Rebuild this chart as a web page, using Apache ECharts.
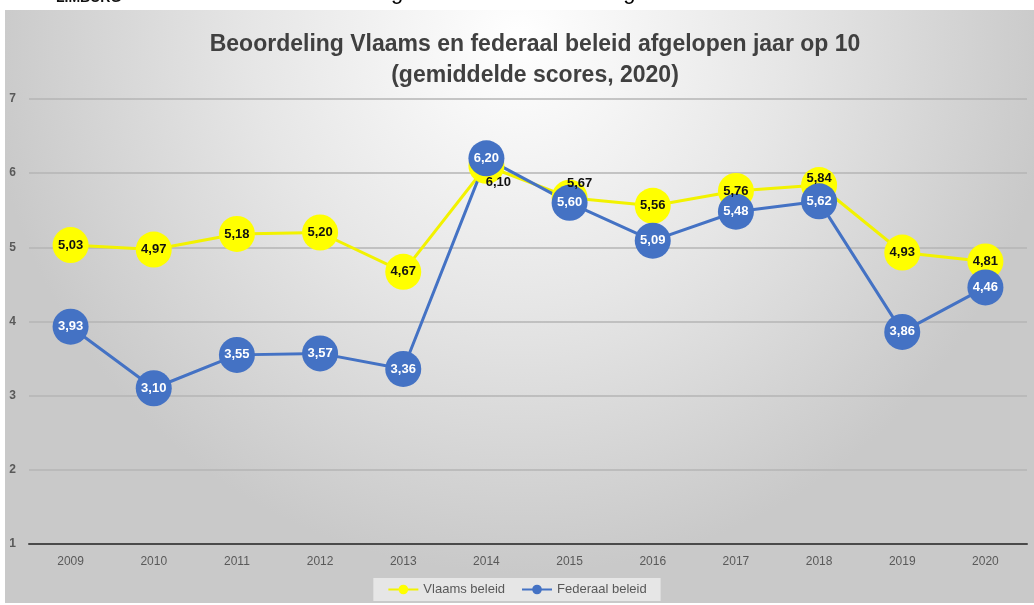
<!DOCTYPE html>
<html>
<head>
<meta charset="utf-8">
<script src="https://cdn.jsdelivr.net/npm/echarts@6/dist/echarts.min.js"></script>
<style>
  html, body { margin: 0; padding: 0; background: #fff; }
  #chart { width: 1034px; height: 605px; }
</style>
</head>
<body>
<div id="chart"></div>
<script>
  // jaren en gemiddelde scores
  var years = ['2009', '2010', '2011', '2012', '2013', '2014', '2015', '2016', '2017', '2018', '2019', '2020'];
  var vlaams = [5.03, 4.97, 5.18, 5.20, 4.67, 6.10, 5.67, 5.56, 5.76, 5.84, 4.93, 4.81];
  var federaal = [3.93, 3.10, 3.55, 3.57, 3.36, 6.20, 5.60, 5.09, 5.48, 5.62, 3.86, 4.46];
  var yTicks = [1, 2, 3, 4, 5, 6, 7];

  var fontFam = '"Liberation Sans", Arial, sans-serif';

  function fmt(v) {
    return v.toFixed(2).replace('.', ',');
  }

  // labels die naast het bolletje staan
  var vlaamsOffsets = { 5: [12, 17], 6: [10, -14], 9: [0, -7] };

  var chart = echarts.init(document.getElementById('chart'));
  var option = {
    backgroundColor: '#ffffff',
    animation: false,
    graphic: [
      {
        type: 'rect',
        z: -10,
        shape: { x: 5, y: 10, width: 1029, height: 593 },
        style: {
          fill: new echarts.graphic.RadialGradient(0.5, 0.05, 0.9, [
            { offset: 0, color: '#ffffff' },
            { offset: 0.5, color: '#e6e6e6' },
            { offset: 1, color: '#c9c9c9' }
          ])
        }
      },
      {
        type: 'text',
        left: 56,
        top: -9,
        style: { text: 'LIMBURG', font: 'bold 14px ' + fontFam, fill: '#111' }
      },
      {
        type: 'text',
        left: 320,
        top: -18,
        style: {
          text: '{b|Polsslag }{r|Ondernemend}{b| Limburg}',
          rich: {
            b: { fontSize: 22, fontFamily: fontFam, color: '#2a3a8c' },
            r: { fontSize: 22, fontFamily: fontFam, color: '#c0282d' }
          }
        }
      }
    ],
    title: {
      text: 'Beoordeling Vlaams en federaal beleid afgelopen jaar op 10\n(gemiddelde scores, 2020)',
      left: 530,
      top: 24,
      textAlign: 'center',
      textStyle: {
        fontFamily: fontFam,
        fontSize: 23,
        fontWeight: 'bold',
        color: '#404040',
        lineHeight: 31
      }
    },
    legend: {
      top: 578,
      left: 'center',
      padding: [5, 14],
      backgroundColor: 'rgba(232,232,232,0.95)',
      itemWidth: 30,
      itemHeight: 12,
      itemGap: 16,
      textStyle: { fontFamily: fontFam, fontSize: 13, color: '#595959' },
      data: ['Vlaams beleid', 'Federaal beleid']
    },
    grid: { left: 29, right: 7, top: 99, bottom: 61 },
    xAxis: {
      type: 'category',
      data: years,
      boundaryGap: true,
      axisTick: { show: false },
      axisLine: { lineStyle: { color: '#4a4a4a', width: 2 } },
      axisLabel: { color: '#595959', fontSize: 12, fontFamily: fontFam, margin: 12 }
    },
    yAxis: {
      type: 'value',
      min: yTicks[0],
      max: yTicks[yTicks.length - 1],
      interval: 1,
      axisLine: { show: false },
      axisTick: { show: false },
      axisLabel: { color: '#595959', fontSize: 12, fontWeight: 'bold', fontFamily: fontFam, margin: 13 },
      splitLine: { lineStyle: { color: '#b4b4b4', width: 1.5 } }
    },
    series: [
      {
        name: 'Vlaams beleid',
        type: 'line',
        data: vlaams.map(function (v, i) {
          var d = { value: v };
          if (vlaamsOffsets[i]) d.label = { offset: vlaamsOffsets[i] };
          return d;
        }),
        symbol: 'circle',
        symbolSize: 36,
        color: '#ffff00',
        lineStyle: { color: '#f2f200', width: 3 },
        itemStyle: { color: '#ffff00' },
        label: {
          show: true,
          position: 'inside',
          color: '#111',
          fontSize: 13,
          fontWeight: 'bold',
          fontFamily: fontFam,
          formatter: function (p) { return fmt(p.value); }
        }
      },
      {
        name: 'Federaal beleid',
        type: 'line',
        data: federaal,
        symbol: 'circle',
        symbolSize: 36,
        color: '#4472c4',
        lineStyle: { color: '#4472c4', width: 3 },
        itemStyle: { color: '#4472c4' },
        label: {
          show: true,
          position: 'inside',
          color: '#ffffff',
          fontSize: 13,
          fontWeight: 'bold',
          fontFamily: fontFam,
          formatter: function (p) { return fmt(p.value); }
        }
      }
    ]
  };
  chart.setOption(option);
</script>
</body>
</html>
